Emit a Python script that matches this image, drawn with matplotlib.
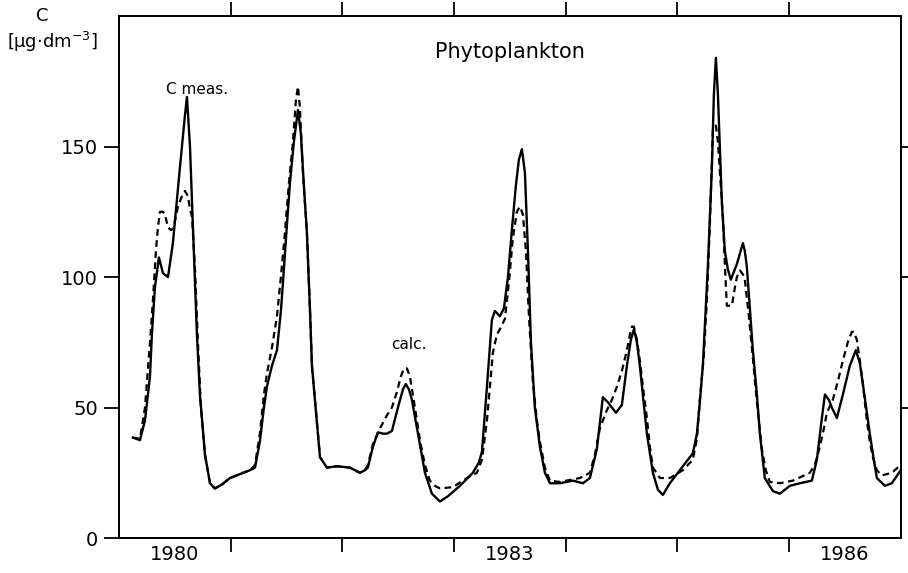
import numpy as np
import matplotlib
matplotlib.use("Agg")
import matplotlib.pyplot as plt

# time in years since start of 1980, concentration in ug/dm3
t_meas = [0.125, 0.188, 0.233, 0.278, 0.295, 0.322, 0.358, 0.394, 0.439, 0.483,
          0.546, 0.591, 0.609, 0.636, 0.654, 0.698, 0.725, 0.770, 0.815, 0.859,
          0.922, 0.994, 1.083, 1.173, 1.218, 1.262, 1.298, 1.325, 1.370, 1.415,
          1.450, 1.468, 1.504, 1.531, 1.567, 1.603, 1.629, 1.656, 1.683, 1.710,
          1.728, 1.755, 1.800, 1.862, 1.952, 2.068, 2.158, 2.202, 2.229, 2.274,
          2.319, 2.364, 2.399, 2.444, 2.498, 2.543, 2.569, 2.596, 2.623, 2.677,
          2.740, 2.802, 2.874, 2.945, 3.053, 3.169, 3.223, 3.250, 3.295, 3.339,
          3.366, 3.411, 3.447, 3.483, 3.518, 3.554, 3.581, 3.608, 3.635, 3.662,
          3.689, 3.724, 3.769, 3.814, 3.859, 3.948, 4.064, 4.154, 4.217, 4.279,
          4.333, 4.378, 4.450, 4.503, 4.548, 4.584, 4.611, 4.638, 4.664, 4.727,
          4.781, 4.826, 4.870, 4.933, 5.022, 5.139, 5.175, 5.201, 5.228, 5.273,
          5.309, 5.327, 5.345, 5.363, 5.381, 5.399, 5.425, 5.452, 5.479, 5.533,
          5.587, 5.604, 5.622, 5.649, 5.676, 5.712, 5.739, 5.783, 5.855, 5.918,
          6.007, 6.097, 6.204, 6.249, 6.294, 6.321, 6.356, 6.383, 6.428, 6.482,
          6.544, 6.598, 6.634, 6.661, 6.697, 6.723, 6.759, 6.786, 6.858, 6.920,
          7.0]
c_meas = [38.5, 37.5, 45, 62, 78, 96, 107.5, 101.5, 100, 113,
          142, 162, 169, 150, 129, 78, 55, 32, 21, 19,
          20.5, 23, 24.5, 26, 27, 37, 50, 58, 66, 72,
          87, 97.5, 120, 136, 152, 164, 155, 135, 117, 88,
          66, 53, 31, 27, 27.5, 27, 25, 26, 27, 35,
          40.5, 40, 40, 41, 50, 57, 59, 57, 53, 40,
          25, 17, 14, 16, 20, 25, 29, 33, 58, 83.5,
          87, 85, 88, 100, 118, 135, 145, 149, 140, 110,
          75, 50, 35, 25, 21, 21, 22, 21, 23, 34,
          54, 52, 48, 51, 66, 76, 80, 75, 66, 40,
          25, 18.5, 16.5, 21, 26, 32.5, 40, 52, 66, 104,
          142, 170, 184, 170, 149, 128, 110, 103, 99, 105,
          113, 110, 104, 88, 72, 55, 40, 23, 18, 17,
          20, 21, 22, 30, 46, 55, 53, 50, 46, 55,
          66, 72, 67, 59, 48, 40, 30, 23, 20, 21,
          26]

t_calc = [0.125, 0.188, 0.233, 0.278, 0.304, 0.331, 0.349, 0.367, 0.394, 0.412,
          0.439, 0.466, 0.483, 0.510, 0.528, 0.564, 0.591, 0.618, 0.636, 0.654,
          0.680, 0.707, 0.734, 0.770, 0.815, 0.859, 0.922, 0.994, 1.083, 1.173,
          1.218, 1.262, 1.298, 1.325, 1.370, 1.415, 1.450, 1.486, 1.522, 1.558,
          1.585, 1.603, 1.620, 1.647, 1.683, 1.710, 1.728, 1.755, 1.800, 1.862,
          1.952, 2.068, 2.158, 2.202, 2.229, 2.274, 2.337, 2.399, 2.444, 2.489,
          2.525, 2.552, 2.578, 2.605, 2.650, 2.695, 2.740, 2.784, 2.829, 2.874,
          2.990, 3.116, 3.205, 3.250, 3.295, 3.348, 3.384, 3.411, 3.456, 3.492,
          3.527, 3.563, 3.590, 3.617, 3.644, 3.671, 3.706, 3.742, 3.769, 3.814,
          3.859, 3.948, 4.127, 4.217, 4.262, 4.306, 4.369, 4.414, 4.459, 4.503,
          4.548, 4.575, 4.593, 4.611, 4.638, 4.664, 4.700, 4.727, 4.754, 4.781,
          4.844, 4.933, 5.049, 5.139, 5.175, 5.201, 5.237, 5.264, 5.291, 5.318,
          5.345, 5.363, 5.381, 5.408, 5.425, 5.443, 5.488, 5.515, 5.533, 5.560,
          5.587, 5.604, 5.640, 5.676, 5.712, 5.757, 5.792, 5.828, 5.918, 6.034,
          6.186, 6.231, 6.276, 6.312, 6.339, 6.392, 6.437, 6.482, 6.526, 6.562,
          6.580, 6.607, 6.634, 6.661, 6.697, 6.723, 6.750, 6.786, 6.831, 6.920,
          7.0]
c_calc = [38.5, 38, 50, 75, 91, 110, 119, 125, 125, 124,
          119, 118, 118.5, 123, 127, 131, 133, 131, 126, 123,
          104, 75, 50, 32, 21, 19, 20.5, 23, 24.5, 26,
          28, 40, 55, 63, 73, 85, 100, 117, 136, 152,
          168, 173, 165, 140, 117, 88, 66, 53, 31, 27,
          27.5, 27, 25, 26, 28, 36, 42, 47, 50, 56,
          62, 65, 65, 62, 50, 37.5, 28, 22, 20, 19,
          19.5, 23, 25, 30, 45, 71, 78, 80, 84, 98,
          115, 125, 127, 124, 110, 85, 60, 45, 37, 27,
          22, 21.5, 23, 25, 32, 42, 49, 53, 58, 64,
          72, 78, 81, 81, 76, 68, 55, 46, 35, 27,
          23, 23, 26, 30, 38, 53, 70, 91, 120, 157,
          158, 152, 140, 123, 105, 89, 89, 96, 100, 102.5,
          101, 99, 85, 69, 52, 34, 26, 21.5, 21, 22,
          25, 28, 35, 42, 48, 53, 60, 68, 75, 79,
          79, 76, 68, 59, 45, 37, 31, 26, 24, 25,
          28]

start_year = 1980
year_ticks = [1981, 1982, 1983, 1984, 1985, 1986]
year_labels = ["1980", "1983", "1986"]
y_ticks = [0, 50, 100, 150]
right_ticks = [50, 100, 150]

fig = plt.figure(figsize=(9.08, 5.73), dpi=100)
ax = fig.add_axes([0.131, 0.061, 0.861, 0.911])

x_meas = start_year + np.array(t_meas)
x_calc = start_year + np.array(t_calc)
ax.plot(x_meas, c_meas, color="black", lw=1.7, solid_joinstyle="round")
ax.plot(x_calc, c_calc, color="black", lw=1.6, dashes=(3, 2))

ax.set_xlim(start_year, start_year + 7)
ax.set_ylim(0, 200)

ax.set_xticks(year_ticks)
ax.set_xticklabels([])
ax.set_xticks([int(y) + 0.5 for y in year_labels], minor=True)
ax.set_xticklabels(year_labels, minor=True)
ax.tick_params(axis="x", which="major", direction="out", length=10, width=1.3,
               top=True, bottom=True)
ax.tick_params(axis="x", which="minor", length=0, labelsize=14, pad=5,
               top=False)

ax.set_yticks(y_ticks)
ax.tick_params(axis="y", direction="out", length=11, width=1.3, labelsize=14, pad=4)

ax2 = ax.twinx()
ax2.set_ylim(0, 200)
ax2.set_yticks(right_ticks)
ax2.set_yticklabels([])
ax2.tick_params(axis="y", direction="out", length=7, width=1.3)

for a in (ax, ax2):
    for s in a.spines.values():
        s.set_linewidth(1.3)

ax.text(0.5, 0.931, "Phytoplankton", transform=ax.transAxes, ha="center",
        va="center", fontsize=15)
ax.text(1980.7, 172, "C meas.", ha="center", va="center", fontsize=11)
ax.text(1982.6, 74, "calc.", ha="center", va="center", fontsize=11)

fig.text(42 / 908, 1 - 16 / 573, "C", ha="center", va="center", fontsize=13)
fig.text(52 / 908, 1 - 42 / 573, r"[µg·dm$^{-3}$]", ha="center", va="center",
         fontsize=13)

fig.savefig("out.png", dpi=100)
